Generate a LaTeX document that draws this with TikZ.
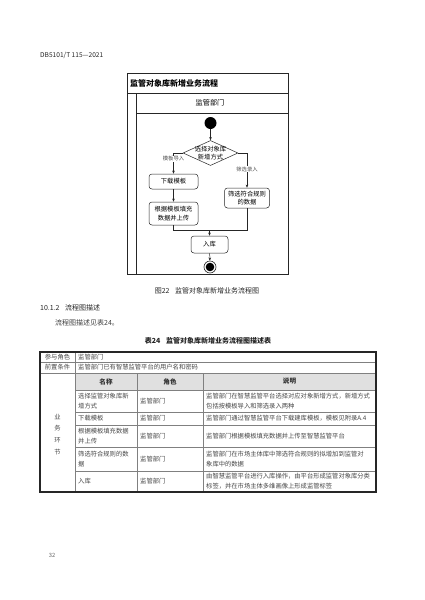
\documentclass[tikz,border=0pt]{standalone}
\usepackage{fontspec}
\setmainfont{Noto Sans CJK SC}
\usetikzlibrary{shapes.geometric,arrows.meta}
\begin{document}
\begin{tikzpicture}[x=1pt,y=-1pt,
  fc/.style={draw=black!85, line width=0.5pt, rounded corners=3pt, align=center, font=\fontsize{6.3}{8.5}\selectfont, inner sep=0pt},
  flow/.style={draw=black!85, line width=0.5pt, -{Stealth[length=3.2pt,width=2.6pt]}},
  plain/.style={draw=black!85, line width=0.5pt},
  lab/.style={font=\fontsize{5.3}{6}\selectfont, text=black!70, fill=white, inner sep=0.6pt},
  cell/.style={anchor=west, align=left, font=\fontsize{6.3}{10}\selectfont, text=black!72, inner sep=0pt},
  ccell/.style={align=center, font=\fontsize{6.3}{10}\selectfont, text=black!72, inner sep=0pt},
  hcell/.style={align=center, font=\fontsize{6.6}{8}\selectfont\bfseries, text=black!80, inner sep=0pt},
  tgrid/.style={draw=black!50, line width=0.4pt},
  ptext/.style={font=\fontsize{7}{9}\selectfont, text=black!85, inner sep=0pt}
]
\useasboundingbox[fill=white] (0,0) rectangle (424,600);

% header
\node[ptext, anchor=west, font=\fontsize{6.6}{8}\selectfont] (hdr) at (40,55) {DB5101/T 115—2021};

% ---------- flowchart frame ----------
\draw[plain] (127,73) rectangle (288,274);
\draw[plain] (127,93) -- (288,93);
\draw[plain] (136,93) -- (136,274);
\draw[plain] (136,113) -- (288,113);
\node[anchor=west, font=\fontsize{8}{9}\selectfont\bfseries, inner sep=0pt] (ftitle) at (130,83) {监管对象库新增业务流程};
\node[font=\fontsize{7.2}{9}\selectfont, inner sep=0pt] (lane) at (210,103) {监管部门};

% ---------- flowchart nodes ----------
\node[circle, fill=black, minimum size=12pt, inner sep=0pt] (start) at (210.5,123) {};
\node[diamond, draw=black!85, line width=0.5pt, minimum width=55pt, minimum height=25pt, inner sep=0pt] (dec) at (210.5,153) {};
\node[font=\fontsize{6.3}{8}\selectfont, align=center, inner sep=0pt] (dectxt) at (210.5,153) {选择对象库\\新增方式};
\node[fc, minimum width=49pt, minimum height=15pt] (dl) at (173.5,181.5) {下载模板};
\node[fc, minimum width=49pt, minimum height=23pt] (fill) at (173.5,213.5) {根据模板填充\\数据并上传};
\node[fc, minimum width=45pt, minimum height=20pt] (sel) at (247,198) {筛选符合规则\\的数据};
\node[fc, minimum width=37pt, minimum height=17pt] (ru) at (209.5,244.5) {入库};
\node[circle, draw=black!85, line width=0.6pt, minimum size=12pt, inner sep=0pt] (endo) at (210,267) {};
\node[circle, fill=black, minimum size=8.6pt, inner sep=0pt] (endi) at (210,267) {};
\coordinate (merge) at (209.5,230);

% ---------- flowchart connectors ----------
\draw[flow] (start) -- (dec);
\draw[flow] (dec.west) -| node[lab, pos=0.64] (l1) {模板导入} (dl.north);
\draw[flow] (dec.east) -| node[lab, pos=0.73] (l2) {筛选录入} (sel.north);
\draw[flow] (dl) -- (fill);
\draw[plain] (fill.south) |- (merge);
\draw[plain] (sel.south) |- (merge);
\draw[flow] (merge) -- (ru.north);
\draw[flow] (ru) -- (endo);

% ---------- texts ----------
\node[ptext] (cap22) at (207,291) {图22\hspace{0.8em}监管对象库新增业务流程图};
\node[ptext, anchor=west] (sec) at (40,308) {10.1.2\hspace{0.8em}流程图描述};
\node[ptext, anchor=west, text=black!75] (para) at (55,323) {流程图描述见表24。};
\node[ptext, font=\fontsize{7}{9}\selectfont\bfseries] (cap24) at (208,341) {表24\hspace{0.8em}监管对象库新增业务流程图描述表};

% ---------- table ----------
\fill[black!12] (75,373) rectangle (376,390);
\draw[tgrid] (40,362) -- (376,362);
\draw[tgrid] (40,373) -- (376,373);
\foreach \yy in {390,412,425,447,471} \draw[tgrid] (75,\yy) -- (376,\yy);
\draw[tgrid] (75,352) -- (75,492);
\draw[tgrid] (137,373) -- (137,492);
\draw[tgrid] (203,373) -- (203,492);
\draw[draw=black!85, line width=1.1pt] (40,352) rectangle (376,492);

\node[ccell] (r1a) at (57.5,357) {参与角色};
\node[cell] (r1b) at (78,357) {监管部门};
\node[ccell] (r2a) at (57.5,367.5) {前置条件};
\node[cell] (r2b) at (78,367.5) {监管部门已有智慧监管平台的用户名和密码};
\node[ccell, font=\fontsize{6.3}{11.8}\selectfont] (ywhj) at (57.5,434.5) {业\\务\\环\\节};

\node[hcell] (hname) at (106,381.5) {名称};
\node[hcell] (hrole) at (170,381.5) {角色};
\node[hcell] (hdesc) at (289.5,381.5) {说明};

\node[cell] (aa) at (78,401) {选择监管对象库新\\增方式};
\node[cell] (ab) at (140,401) {监管部门};
\node[cell] (ac) at (206,401) {监管部门在智慧监管平台选择对应对象新增方式，新增方式\\包括按模板导入和筛选录入两种};

\node[cell] (ba) at (78,418.5) {下载模板};
\node[cell] (bb) at (140,418.5) {监管部门};
\node[cell] (bc) at (206,418.5) {监管部门通过智慧监管平台下载建库模板，模板见附录A.4};

\node[cell] (ca) at (78,436) {根据模板填充数据\\并上传};
\node[cell] (cb) at (140,436) {监管部门};
\node[cell] (cc) at (206,436) {监管部门根据模板填充数据并上传至智慧监管平台};

\node[cell] (da) at (78,459) {筛选符合规则的数\\据};
\node[cell] (db) at (140,459) {监管部门};
\node[cell] (dc) at (206,459) {监管部门在市场主体库中筛选符合规则的拟增加到监管对\\象库中的数据};

\node[cell] (ea) at (78,481.5) {入库};
\node[cell] (eb) at (140,481.5) {监管部门};
\node[cell] (ec) at (206,481.5) {由智慧监管平台进行入库操作，由平台形成监管对象库分类\\标签，并在市场主体多维画像上形成监管标签};

% page number
\node[ptext, font=\fontsize{5.8}{7}\selectfont, text=black!60] (pg) at (52,555) {32};
\end{tikzpicture}
\end{document}
